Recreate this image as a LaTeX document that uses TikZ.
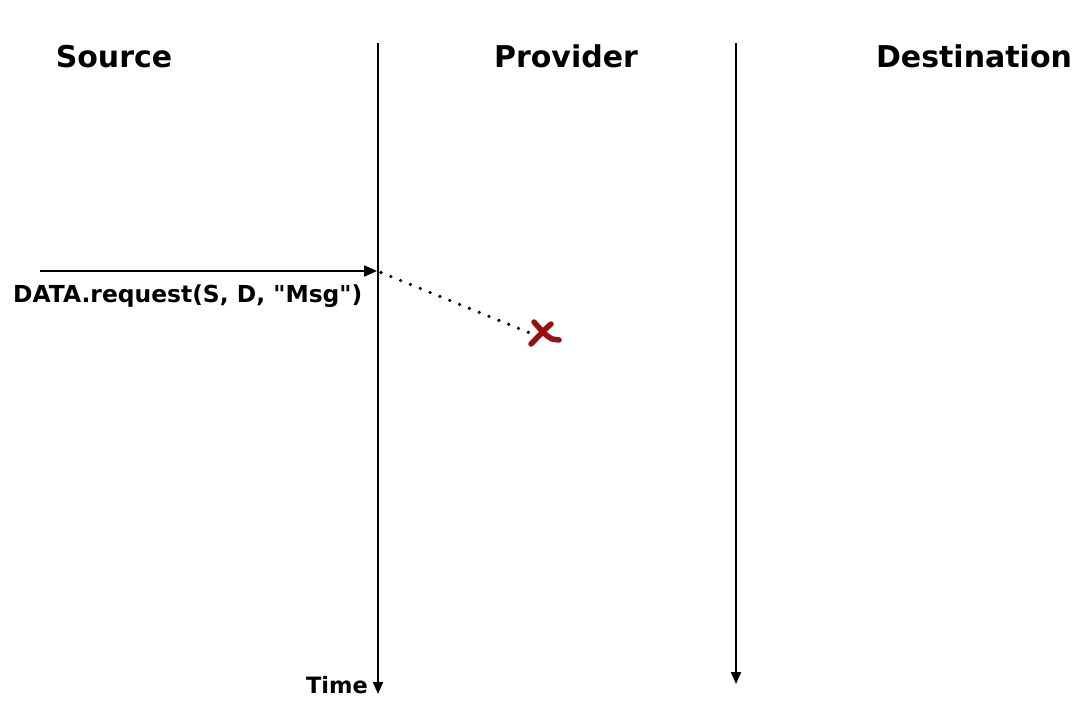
\documentclass[tikz,border=0pt]{standalone}
\usepackage{fontspec}
\setmainfont{DejaVu Sans}[Ligatures=TeXOff]
\usetikzlibrary{arrows.meta}
\tikzset{
  title/.style={font=\bfseries\fontsize{30}{34}\selectfont, inner sep=0pt},
  lbl/.style={font=\bfseries\fontsize{22.5}{26}\selectfont, inner sep=0pt},
  life/.style={line width=2pt, -{Triangle[length=12pt,width=10pt]}},
  msg/.style={line width=2pt, -{Triangle[length=13pt,width=11pt]}},
  lost/.style={line width=3.6pt, line cap=round, dash pattern=on 0pt off 10.6pt},
  cross/.style={line width=5.5pt, color=xred, line cap=round},
}
\definecolor{xred}{HTML}{9A0E0E}
\begin{document}
\begin{tikzpicture}[x=1pt,y=-1pt]
\useasboundingbox (0,0) rectangle (1083,704);
\fill[white] (0,0) rectangle (1083,704);
% titles
\node[title, anchor=base] (src) at (114,67) {Source};
\node[title, anchor=base] (prov) at (566,67) {Provider};
\node[title, anchor=base] (dst) at (974,67) {Destination};
% lifelines
\coordinate (l1top) at (378,43);
\coordinate (l1bot) at (378,694);
\coordinate (l2top) at (736,43);
\coordinate (l2bot) at (736,684);
\draw[life] (l1top) -- (l1bot);
\draw[life] (l2top) -- (l2bot);
% request
\coordinate (reqstart) at (40,271);
\coordinate (reqend) at (377,271);
\draw[msg] (reqstart) -- (reqend);
\node[lbl, font=\bfseries\fontsize{23.4}{27}\selectfont, anchor=base west] (req) at (13,302) {DATA.request(S, D, "Msg")};
% lost message
\coordinate (lostend) at (530,333);
\draw[lost] (reqend) ++(4,1.5) -- (lostend);
\coordinate (xc) at (543,332);
\draw[cross] (534,322) .. controls (541,330) and (546,336) .. (552,339) -- (559,340);
\draw[cross] (551,324) .. controls (544,330) and (537,338) .. (531,344);
% time
\node[lbl, anchor=base east] (time) at (368,693) {Time};
\end{tikzpicture}
\end{document}
